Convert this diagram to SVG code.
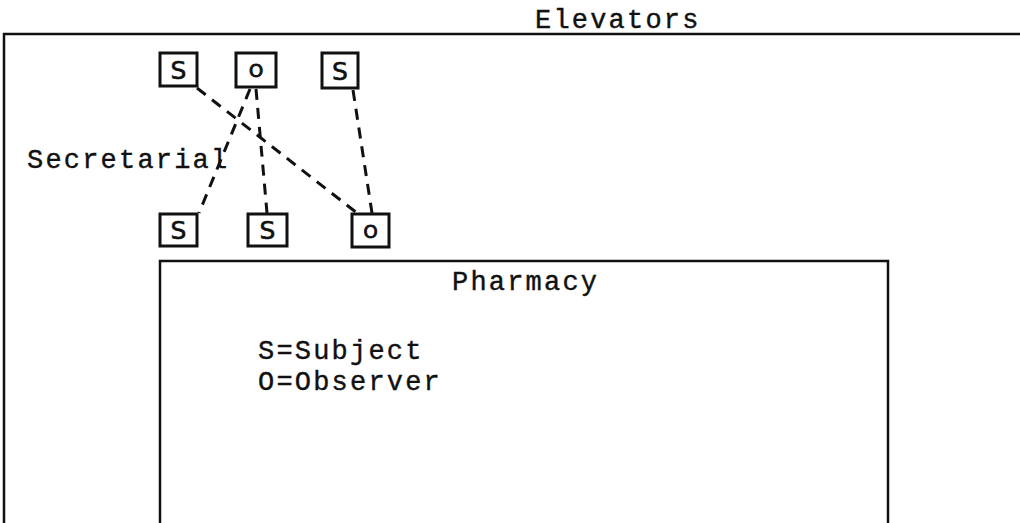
<svg xmlns="http://www.w3.org/2000/svg" width="1020" height="523" viewBox="0 0 1020 523">
  <style>
    .wall { fill: none; stroke: #111; stroke-width: 2.5; }
    .box { fill: #fff; stroke: #111; stroke-width: 3; }
    .type { font-family: "Liberation Mono", "Courier New", monospace; font-size: 27px; letter-spacing: 2.2px; fill: #111; stroke: #111; stroke-width: 0.4; }
    .mark { font-family: "DejaVu Sans", "Liberation Sans", sans-serif; font-size: 25px; fill: #111; text-anchor: middle; stroke: #111; stroke-width: 0.6; }
    .mark-o { font-family: "DejaVu Sans", "Liberation Sans", sans-serif; font-size: 18px; fill: #111; text-anchor: middle; stroke: #111; stroke-width: 1; }
    .link { fill: none; stroke: #111; stroke-width: 3; stroke-dasharray: 11 8; }
  </style>
  <rect width="1020" height="523" fill="#fff"/>

  <!-- outer room: top wall and left wall -->
  <g id="room">
    <path class="wall" d="M4,523 V34 H1020"/>
    <text class="type" x="535" y="28">Elevators</text>
    <text class="type" x="27" y="168">Secretarial</text>
  </g>

  <!-- pharmacy area -->
  <g id="pharmacy">
    <path class="wall" d="M160,523 V261 H888 V523"/>
    <text class="type" x="452" y="290">Pharmacy</text>
    <text class="type" x="258" y="359">S=Subject</text>
    <text class="type" x="258" y="390">O=Observer</text>
  </g>

  <!-- dashed pairings between seats -->
  <g id="connectors">
    <line class="link" x1="197" y1="88" x2="357" y2="213"/>
    <line class="link" x1="250" y1="89" x2="199" y2="213"/>
    <line class="link" x1="256" y1="89" x2="267" y2="213"/>
    <line class="link" x1="353" y1="90" x2="372" y2="213"/>
  </g>

  <!-- top row seats -->
  <g id="seat-top-s1">
    <rect class="box" x="160" y="53" width="37" height="33"/>
    <text class="mark" x="178.5" y="79">S</text>
  </g>
  <g id="seat-top-o">
    <rect class="box" x="236" y="53" width="40" height="34"/>
    <text class="mark-o" x="256" y="77">O</text>
  </g>
  <g id="seat-top-s2">
    <rect class="box" x="322" y="53" width="36" height="35"/>
    <text class="mark" x="340" y="80">S</text>
  </g>

  <!-- bottom row seats -->
  <g id="seat-bottom-s1">
    <rect class="box" x="160" y="214" width="37" height="32"/>
    <text class="mark" x="178.5" y="239">S</text>
  </g>
  <g id="seat-bottom-s2">
    <rect class="box" x="248" y="214" width="39" height="32"/>
    <text class="mark" x="267.5" y="239">S</text>
  </g>
  <g id="seat-bottom-o">
    <rect class="box" x="352" y="214" width="37" height="33"/>
    <text class="mark-o" x="370.5" y="238">O</text>
  </g>
</svg>
